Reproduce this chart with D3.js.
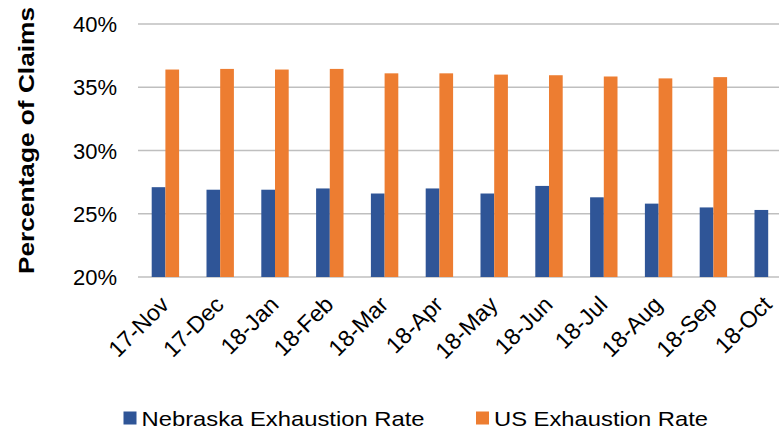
<!DOCTYPE html>
<html>
<head>
<meta charset="utf-8">
<script src="https://cdn.jsdelivr.net/npm/d3@7"></script>
<style>
  body { margin: 0; background: #fff; }
  svg { display: block; font-family: "Liberation Sans", Arial, sans-serif; }
</style>
</head>
<body>
<svg width="779" height="432"></svg>
<script>
// months on the x axis
const months = ["17-Nov", "17-Dec", "18-Jan", "18-Feb", "18-Mar", "18-Apr",
                "18-May", "18-Jun", "18-Jul", "18-Aug", "18-Sep", "18-Oct"]
// exhaustion rates (%)
const nebraska = [27.1, 26.9, 26.9, 27.0, 26.6, 27.0, 26.6, 27.2, 26.3, 25.8, 25.5, 25.3]
const us = [36.4, 36.45, 36.4, 36.45, 36.1, 36.1, 36.0, 35.95, 35.85, 35.7, 35.8, null]
const seriesNames = ["Nebraska Exhaustion Rate", "US Exhaustion Rate"]
const colors = ["#2F5597", "#ED7D31"]
const yTicks = [20, 25, 30, 35, 40]

const svg = d3.select("svg")

const x = d3.scaleBand()
  .domain(months)
  .range([138, 795.6])
  .paddingInner(0.5)
  .paddingOuter(0.25)

const xs = d3.scaleBand()
  .domain(seriesNames)
  .range([0, x.bandwidth()])

const y = d3.scaleLinear()
  .domain([20, 40])
  .range([277, 24])

// gridlines
svg.append("g")
  .selectAll("line")
  .data(yTicks)
  .join("line")
  .attr("x1", 138)
  .attr("x2", 779)
  .attr("y1", d => y(d))
  .attr("y2", d => y(d))
  .attr("stroke", "#BFBFBF")
  .attr("stroke-width", 1.5)

// y tick labels
svg.append("g")
  .selectAll("text")
  .data(yTicks)
  .join("text")
  .attr("x", 117)
  .attr("y", d => y(d) + 8)
  .attr("text-anchor", "end")
  .attr("font-size", 22)
  .attr("fill", "#000")
  .text(d => d + "%")

// bars
const rows = months.map((m, i) => ({ month: m, values: [nebraska[i], us[i]] }))
const groups = svg.append("g")
  .selectAll("g")
  .data(rows)
  .join("g")
  .attr("transform", d => `translate(${x(d.month)},0)`)

groups.selectAll("rect")
  .data(d => d.values.map((v, k) => ({ name: seriesNames[k], v: v, k: k })).filter(e => e.v != null))
  .join("rect")
  .attr("x", e => xs(e.name))
  .attr("width", xs.bandwidth())
  .attr("y", e => y(e.v))
  .attr("height", e => y(20) - y(e.v))
  .attr("fill", e => colors[e.k])

// x labels, rotated
svg.append("g")
  .selectAll("text")
  .data(months)
  .join("text")
  .attr("transform", d => `translate(${x(d) + x.bandwidth() / 2 + 5},${306}) rotate(-45)`)
  .attr("text-anchor", "end")
  .attr("font-size", 23)
  .attr("fill", "#000")
  .text(d => d)

// y axis title
svg.append("text")
  .attr("transform", "translate(34,140.5) rotate(-90)")
  .attr("text-anchor", "middle")
  .attr("font-size", 22)
  .attr("font-weight", "bold")
  .attr("textLength", 267)
  .attr("lengthAdjust", "spacingAndGlyphs")
  .text("Percentage of Claims")

// legend
const legendX = [123.5, 476]
const legendW = [283, 214]
const legend = svg.append("g")
  .selectAll("g")
  .data(seriesNames)
  .join("g")
  .attr("transform", (d, i) => `translate(${legendX[i]},0)`)

legend.append("rect")
  .attr("x", 0)
  .attr("y", 411.5)
  .attr("width", 13)
  .attr("height", 13)
  .attr("fill", (d, i) => colors[i])

legend.append("text")
  .attr("x", 18)
  .attr("y", 425.5)
  .attr("font-size", 21)
  .attr("fill", "#000")
  .attr("textLength", (d, i) => legendW[i])
  .attr("lengthAdjust", "spacingAndGlyphs")
  .text(d => d)
</script>
</body>
</html>
